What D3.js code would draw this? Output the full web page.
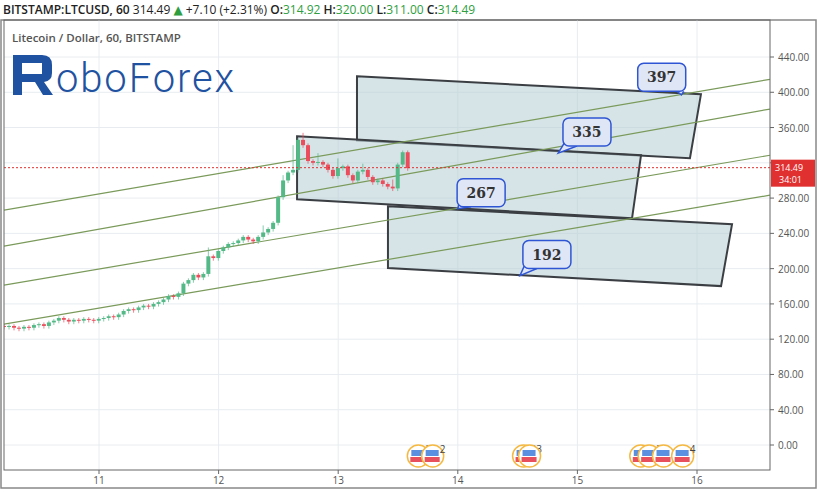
<!DOCTYPE html>
<html lang="en">
<head>
<meta charset="UTF-8">
<title>LTCUSD</title>
<script src="https://d3js.org/d3.v7.min.js"></script>
<style>
 body { margin: 0; background: #fff; font-family: "Open Sans", "DejaVu Sans", sans-serif; }
</style>
</head>
<body>
<div id="chart"></div>
<script>
// hourly closes, first candle at day 10.206
const startDay = 10.206;
const closes = [134,135,133,132,134,133,136,137,135,139,141,144,142,140,142,141,143,142,141,143,
  144,146,145,148,152,154,153,156,158,157,160,162,165,169,168,172,183,187,193,190,
  194,214,212,220,224,228,229,232,236,233,231,236,241,245,252,281,300,309,312,346,
  340,322,320,321,318,312,305,314,316,306,300,310,312,304,298,300,296,293,291,318,332,314];
const spikes = {41: 8, 52: 6, 56: 4, 58: 26, 60: 6, 63: 8, 67: 9, 72: 5, 78: 6};
const yTicks = [0,40,80,120,160,200,240,280,320,360,400,440];
const xTicks = [11,12,13,14,15,16];
const lastPrice = 314.49;
// parallelogram zones [day, price]
const zones = [
  [[13.157,418.1],[16.033,397.7],[15.941,325.2],[13.157,345.6]],
  [[12.656,350.1],[15.532,328.6],[15.457,257.2],[12.656,278.7]],
  [[13.416,270.8],[16.293,250.4],[16.201,180.2],[13.416,200.6]]
];
const trendLines = [[266.3,414.7],[225.5,381],[181.3,328.6],[137.1,283.3]];
const callouts = [
  {label:"397", day:15.705, price:417, tip:[15.87,397]},
  {label:"335", day:15.08, price:355, tip:[14.84,331]},
  {label:"267", day:14.195, price:286, tip:[14.0,268]},
  {label:"192", day:14.745, price:216, tip:[14.52,192]}
];
const events = [[13.67,"2"],[13.79,"2"],[14.55,"33"],[14.6,""],[15.53,""],[15.6,"3"],[15.72,""],[15.88,"4"]];

const W = 820, H = 497;
const svg = d3.select("#chart").append("svg").attr("width", W).attr("height", H);
const x = d3.scaleLinear().domain([11,16]).range([99,697]);
const y = d3.scaleLinear().domain([0,440]).range([445,57]);
const L = 4, R = 770, T = 20, B = 470;

svg.append("rect").attr("x",1).attr("y",20).attr("width",815).attr("height",468).attr("fill","none").attr("stroke","#888").attr("stroke-width",1.5);

const g = svg.append("g");
g.append("clipPath").attr("id","clip").append("rect").attr("x",L).attr("y",T).attr("width",R-L).attr("height",B-T);
// grid
g.selectAll(".hg").data(yTicks).enter().append("line").attr("x1",L).attr("x2",R)
  .attr("y1",d=>y(d)).attr("y2",d=>y(d)).attr("stroke","#e8ecf0");
g.selectAll(".vg").data(xTicks).enter().append("line").attr("y1",T).attr("y2",B)
  .attr("x1",d=>x(d)).attr("x2",d=>x(d)).attr("stroke","#e8ecf0");

const plot = g.append("g").attr("clip-path","url(#clip)");
const line = d3.line().x(d=>x(d[0])).y(d=>y(d[1]));

// zones
plot.selectAll(".zone").data(zones).enter().append("path")
  .attr("d", d=>line(d)+"Z").attr("fill","rgba(180,205,212,0.55)").attr("stroke","#3b3f44").attr("stroke-width",2);

// trend lines
plot.selectAll(".tl").data(trendLines).enter().append("line")
  .attr("x1",x(10.206)).attr("x2",x(16.61)).attr("y1",d=>y(d[0])).attr("y2",d=>y(d[1]))
  .attr("stroke","#7a9a5a").attr("stroke-width",1.2);

// candles
const bw = 119.6/24;
closes.forEach((c,i)=>{
  const o = i===0 ? c+1 : closes[i-1];
  const t = startDay + i/24;
  const up = c >= o;
  const col = up ? "#53b987" : "#eb4d5c";
  const hi = Math.max(o,c) + 2 + (spikes[i]||0);
  const lo = Math.min(o,c) - 3;
  plot.append("line").attr("x1",x(t)).attr("x2",x(t)).attr("y1",y(hi)).attr("y2",y(lo)).attr("stroke",col).attr("opacity",0.7);
  const yt = y(Math.max(o,c)), yb = y(Math.min(o,c));
  plot.append("rect").attr("x",x(t)-bw*0.4).attr("width",bw*0.8).attr("y",yt).attr("height",Math.max(1,yb-yt)).attr("fill",col);
});

// last price line
plot.append("line").attr("x1",L).attr("x2",R).attr("y1",y(lastPrice)).attr("y2",y(lastPrice))
  .attr("stroke","#e03030").attr("stroke-dasharray","2,2").attr("stroke-width",1);

// callouts
callouts.forEach(c=>{
  const cx = x(c.day), cy = y(c.price), w = 48, h = 28;
  const tx = x(c.tip[0]), ty = y(c.tip[1]);
  const lx = tx < cx ? cx-w/2+2 : cx+w/2-14;
  plot.append("path").attr("d",`M${lx},${cy+h/2-4} L${tx},${ty} L${lx+12},${cy+h/2}`)
    .attr("fill","#dfe6f5").attr("stroke","#2f55d4").attr("stroke-width",1.5);
  plot.append("rect").attr("x",cx-w/2).attr("y",cy-h/2).attr("width",w).attr("height",h).attr("rx",6)
    .attr("fill","#dfe6f5").attr("stroke","#2f55d4").attr("stroke-width",1.5);
  plot.append("text").attr("x",cx).attr("y",cy+5).attr("text-anchor","middle")
    .attr("font-size",14).attr("font-weight","bold").attr("fill","#333").attr("font-family","DejaVu Serif, serif").text(c.label);
});

// events
events.forEach(e=>{
  const ex = x(e[0]);
  g.append("circle").attr("cx",ex).attr("cy",456).attr("r",11).attr("fill","#fff").attr("stroke","#f5b942").attr("stroke-width",1.5);
  g.append("rect").attr("x",ex-7).attr("y",450).attr("width",13).attr("height",6).attr("fill","#5b8fe0");
  g.append("rect").attr("x",ex-8).attr("y",457).attr("width",15).attr("height",5).attr("fill","#e8505b");
  g.append("text").attr("x",ex+7).attr("y",453).attr("font-size",10).attr("fill","#444").text(e[1]);
});

// plot frame
svg.append("rect").attr("x",L).attr("y",T).attr("width",R-L).attr("height",B-T).attr("fill","none").attr("stroke","#666");

// axes (labels hidden behind the price tag are skipped)
yTicks.forEach(v=>{
  svg.append("line").attr("x1",R).attr("x2",R+4).attr("y1",y(v)).attr("y2",y(v)).attr("stroke","#666");
  if (Math.abs(y(v) - y(lastPrice)) > 12)
    svg.append("text").attr("x",R+8).attr("y",y(v)+4).attr("font-size",10).attr("fill","#555").text(v.toFixed(2));
});
xTicks.forEach(v=>{
  svg.append("line").attr("x1",x(v)).attr("x2",x(v)).attr("y1",B).attr("y2",B+4).attr("stroke","#666");
  svg.append("text").attr("x",x(v)).attr("y",B+14).attr("text-anchor","middle").attr("font-size",10).attr("fill","#555").text(v);
});
// price tag
svg.append("rect").attr("x",R+1).attr("y",y(lastPrice)-8).attr("width",44).attr("height",27).attr("fill","#e03030");
svg.append("text").attr("x",R+5).attr("y",y(lastPrice)+3).attr("font-size",9).attr("fill","#fff").text("314.49");
svg.append("text").attr("x",R+9).attr("y",y(lastPrice)+15).attr("font-size",9).attr("fill","#fff").text("34:01");

// header
const hd = svg.append("text").attr("x",3).attr("y",14).attr("font-size",12).attr("fill","#222").attr("font-weight","600");
hd.append("tspan").text("BITSTAMP:LTCUSD, 60 ");
hd.append("tspan").attr("font-weight","normal").text("314.49 ");
hd.append("tspan").attr("fill","#2e9e3e").text("▲");
hd.append("tspan").attr("font-weight","normal").text(" +7.10 (+2.31%) ");
[["O:","314.92"],["H:","320.00"],["L:","311.00"],["C:","314.49"]].forEach(p=>{
  hd.append("tspan").text(p[0]);
  hd.append("tspan").attr("fill","#2e9e3e").attr("font-weight","normal").text(p[1]+" ");
});
svg.append("text").attr("x",12).attr("y",42).attr("font-size",11.5).attr("fill","#555").attr("font-weight","600").text("Litecoin / Dollar, 60, BITSTAMP");

// logo
const logo = svg.append("g").attr("fill","#1f52a0");
logo.append("path").attr("d","M13,55 H42 Q52,55 52,65 V73 Q52,81 44,82 L53,95 H43 L35,82 H22 V95 H13 Z M22,63 V74 H42 V63 Z").attr("fill-rule","evenodd");
svg.append("text").attr("x",56).attr("y",92).attr("font-size",40).attr("fill","#1f52a0").attr("font-family","Roboto, sans-serif").attr("font-weight",300).attr("textLength",178).text("oboForex");
</script>
</body>
</html>
